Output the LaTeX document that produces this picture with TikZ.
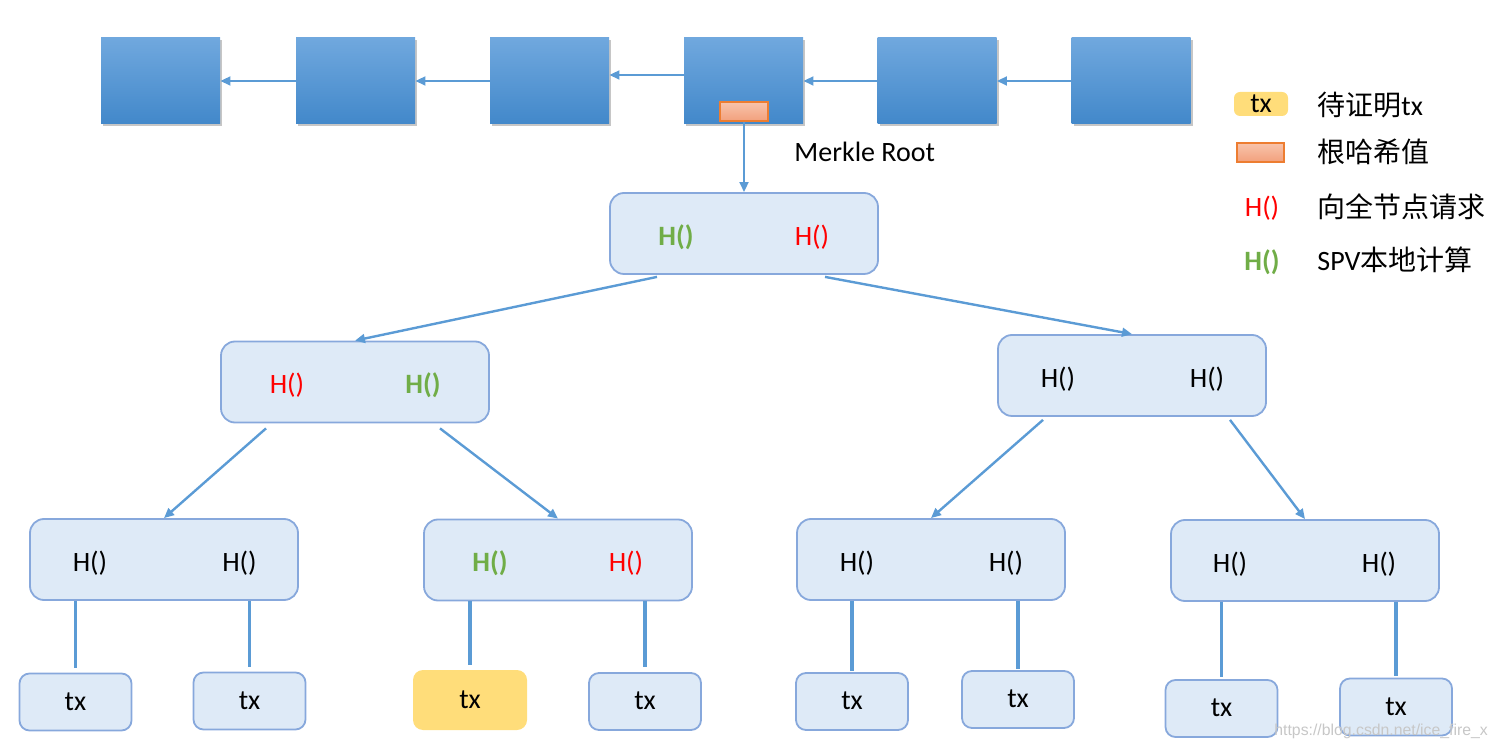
\documentclass[tikz,border=0pt]{standalone}
\usepackage{fontspec}
\setmainfont{Carlito}
\newfontfamily\cjk{Noto Sans CJK SC}
\newfontfamily\wmfont{Liberation Sans}
\usetikzlibrary{arrows.meta,shadows,calc}
\definecolor{arrowblue}{RGB}{91,155,213}
\definecolor{blocktop}{RGB}{112,168,222}
\definecolor{blockbot}{RGB}{66,136,202}
\definecolor{treefill}{RGB}{222,234,247}
\definecolor{treedraw}{RGB}{135,168,220}
\definecolor{hgreen}{RGB}{112,173,71}
\definecolor{hred}{RGB}{255,0,0}
\definecolor{txyellow}{RGB}{255,221,122}
\definecolor{roottop}{RGB}{248,196,172}
\definecolor{rootbot}{RGB}{242,160,124}
\definecolor{rootdraw}{RGB}{237,125,49}
\begin{document}
\begin{tikzpicture}[x=0.5pt,y=-0.5pt,
  font=\fontsize{14pt}{17pt}\selectfont,
  blockbox/.style={rectangle, minimum width=59.5pt, minimum height=43pt, inner sep=0pt,
    top color=blocktop, bottom color=blockbot, draw=none,
    drop shadow={shadow xshift=1pt, shadow yshift=-1.2pt, opacity=0.45}},
  roothash/.style={rectangle, minimum width=24pt, minimum height=9.5pt, inner sep=0pt,
    top color=roottop, bottom color=rootbot, draw=rootdraw, line width=0.6pt},
  treebox/.style={rectangle, rounded corners=7pt, minimum width=134pt, minimum height=40.5pt,
    inner sep=0pt, fill=treefill, draw=treedraw, line width=0.9pt},
  leafbox/.style={rectangle, rounded corners=5pt, minimum width=56pt, minimum height=28.5pt,
    inner sep=0pt, fill=treefill, draw=treedraw, line width=0.9pt, text height=0.82em, text depth=0pt},
  provebox/.style={rectangle, rounded corners=5pt, minimum width=57pt, minimum height=30pt,
    inner sep=0pt, fill=txyellow, draw=none, text height=0.82em, text depth=0pt},
  hlab/.style={inner sep=0pt, anchor=base},
  hblack/.style={hlab},
  hredl/.style={hlab, text=hred},
  hgreenl/.style={hlab, text=hgreen, font=\fontsize{14pt}{17pt}\selectfont\bfseries},
  legtext/.style={inner sep=0pt, anchor=base west},
  arr/.style={draw=arrowblue, line width=1.2pt, -{Triangle[length=5pt,width=4.4pt]}},
  vline/.style={draw=arrowblue, line width=1.7pt}
]
\useasboundingbox (0,0) rectangle (1497,747);

% block chain
\node[blockbox] (b1) at (160.5,81) {};
\node[blockbox] (b2) at (355.5,81) {};
\node[blockbox] (b3) at (549.5,81) {};
\node[blockbox] (b4) at (743.5,81) {};
\node[blockbox] (b5) at (937,81) {};
\node[blockbox] (b6) at (1131,81) {};
\node[roothash] (rh) at (744,111.5) {};
\draw[arr] (b2.west) -- (b1.east);
\draw[arr] (b3.west) -- (b2.east);
\draw[arr] ($(b4.west)+(0,-6)$) -- ($(b3.east)+(0,-6)$);
\draw[arr] (b5.west) -- (b4.east);
\draw[arr] (b6.west) -- (b5.east);
\node[legtext] (mr) at (794,162) {Merkle Root};

% tree
\node[treebox] (root) at (744,233.5) {};
\node[treebox] (l1l) at (355,382) {};
\node[treebox] (l1r) at (1132,375.5) {};
\node[treebox] (na) at (164,559.5) {};
\node[treebox] (nb) at (558,560) {};
\node[treebox] (nc) at (931,559.5) {};
\node[treebox] (nd) at (1305,560.5) {};

\node[hgreenl] (root1) at (676,246) {H()};
\node[hredl] (root2) at (812,246) {H()};
\node[hredl] (l1l1) at (287,394) {H()};
\node[hgreenl] (l1l2) at (423,394) {H()};
\node[hblack] (l1r1) at (1058,388) {H()};
\node[hblack] (l1r2) at (1207,388) {H()};
\node[hblack] (na1) at (90,572) {H()};
\node[hblack] (na2) at (239.5,572) {H()};
\node[hgreenl] (nb1) at (490,572) {H()};
\node[hredl] (nb2) at (626,572) {H()};
\node[hblack] (nc1) at (857,572) {H()};
\node[hblack] (nc2) at (1006,572) {H()};
\node[hblack] (nd1) at (1230,573) {H()};
\node[hblack] (nd2) at (1379,573) {H()};

\draw[arr] (rh.south) -- (root.north);
\draw[arr] ($(root.south)+(-87,2)$) -- (l1l.north);
\draw[arr] ($(root.south)+(81,2)$) -- (l1r.north);
\draw[arr] ($(l1l.south)+(-89,5)$) -- (na.north);
\draw[arr] ($(l1l.south)+(85,5)$) -- (nb.north);
\draw[arr] ($(l1r.south)+(-89,3)$) -- (nc.north);
\draw[arr] ($(l1r.south)+(98,3)$) -- (nd.north);

% leaves
\node[leafbox] (t1) at (75.5,702) {tx};
\node[leafbox] (t2) at (249.5,701) {tx};
\node[provebox] (t3) at (470,700) {tx};
\node[leafbox] (t4) at (645,701.5) {tx};
\node[leafbox] (t5) at (852,701.5) {tx};
\node[leafbox] (t6) at (1018,699.5) {tx};
\node[leafbox] (t7) at (1221.5,708.5) {tx};
\node[leafbox] (t8) at (1396,707) {tx};

\draw[vline] (t1.north |- na.south) -- ($(t1.north)+(0,-5)$);
\draw[vline] (t2.north |- na.south) -- ($(t2.north)+(0,-5)$);
\draw[vline] (t3.north |- nb.south) -- ($(t3.north)+(0,-5)$);
\draw[vline] (t4.north |- nb.south) -- ($(t4.north)+(0,-5)$);
\draw[vline] (t5.north |- nc.south) -- ($(t5.north)+(0,-1)$);
\draw[vline] (t6.north |- nc.south) -- ($(t6.north)+(0,-1)$);
\draw[vline] (t7.north |- nd.south) -- ($(t7.north)+(0,-2)$);
\draw[vline] (t8.north |- nd.south) -- ($(t8.north)+(0,-2)$);

% legend
\node[provebox, minimum width=27pt, minimum height=12pt, rounded corners=3pt] (lg1) at (1261,104) {tx};
\node[legtext] (lg1t) at (1317,116) {{\cjk 待证明}tx};
\node[roothash, minimum width=23.5pt] (lg2) at (1260.5,152.5) {};
\node[legtext] (lg2t) at (1317,163) {\cjk 根哈希值};
\node[hredl] (lg3) at (1262,217) {H()};
\node[legtext] (lg3t) at (1317,218) {\cjk 向全节点请求};
\node[hgreenl] (lg4) at (1262,271) {H()};
\node[legtext] (lg4t) at (1317,271) {SPV{\cjk 本地计算}};

% watermark
\node[inner sep=0pt, anchor=base west, text=black!22, font=\wmfont\fontsize{7.9pt}{9pt}\selectfont] (wm) at (1274,735) {https://blog.csdn.net/ice\_fire\_x};
\end{tikzpicture}
\end{document}
